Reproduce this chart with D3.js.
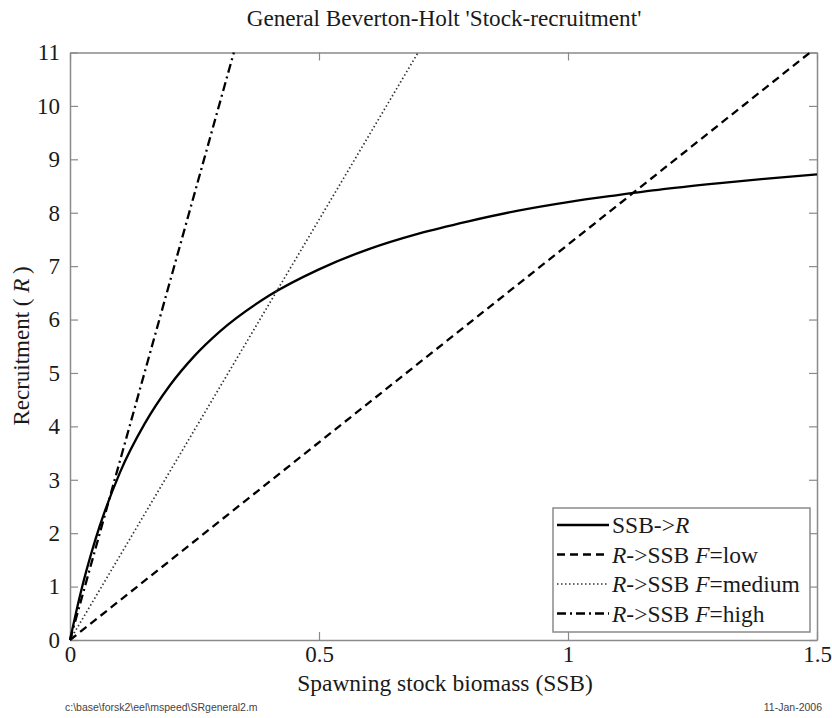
<!DOCTYPE html>
<html><head><meta charset="utf-8">
<script src="https://cdn.jsdelivr.net/npm/d3@7"></script>
<style>body{margin:0;background:#fff;} svg text{font-family:"Liberation Serif","Times New Roman",serif;}</style>
</head><body><svg id="c" width="832" height="718"></svg>
<script>
// Data
const ssb = [0, 0.02, 0.05, 0.1, 0.15, 0.2, 0.25, 0.3, 0.4, 0.5, 0.6, 0.7, 0.8, 0.9, 1.0, 1.1, 1.2, 1.3, 1.4, 1.5];
const recruit = [0, 0.83, 1.85, 3.13, 4.05, 4.76, 5.32, 5.77, 6.45, 6.94, 7.32, 7.61, 7.84, 8.04, 8.20, 8.33, 8.45, 8.55, 8.64, 8.72];
const lowSSB = [0, 1.486], lowR = [0, 11];
const medSSB = [0, 0.699], medR = [0, 11];
const highSSB = [0, 0.329], highR = [0, 11];
const xTicks = [0, 0.5, 1, 1.5];
const xTickLabels = ["0", "0.5", "1", "1.5"];
const yTicks = [0,1,2,3,4,5,6,7,8,9,10,11];
const legendLabels = [
  [["SSB->", "n"], ["R", "i"]],
  [["R", "i"], ["->SSB ", "n"], ["F", "i"], ["=low", "n"]],
  [["R", "i"], ["->SSB ", "n"], ["F", "i"], ["=medium", "n"]],
  [["R", "i"], ["->SSB ", "n"], ["F", "i"], ["=high", "n"]]
];

const SERIF = "'Liberation Serif', 'Times New Roman', serif";
const svg = d3.select("#c");
const L = 70, R = 817, T = 52.5, B = 640;
const x = d3.scaleLinear().domain([0, 1.5]).range([L, R]);
const y = d3.scaleLinear().domain([0, 11]).range([B, T]);
const axisCol = "#8a8a8a", textCol = "#1a1a1a";

// axes with inward ticks
const g = svg.append("g");
const ax = [
  d3.axisBottom(x).tickValues(xTicks).tickFormat((d,i)=>xTickLabels[i]).tickSizeInner(-8).tickSizeOuter(0).tickPadding(6),
  d3.axisTop(x).tickValues(xTicks).tickFormat("").tickSizeInner(-8).tickSizeOuter(0),
  d3.axisLeft(y).tickValues(yTicks).tickSizeInner(-8).tickSizeOuter(0).tickPadding(10),
  d3.axisRight(y).tickValues(yTicks).tickFormat("").tickSizeInner(-8).tickSizeOuter(0)
];
const tr = [`translate(0,${B})`, `translate(0,${T})`, `translate(${L},0)`, `translate(${R},0)`];
ax.forEach((a,i)=>{
  const gg = g.append("g").attr("transform", tr[i]).call(a);
  gg.attr("font-family", null);
  gg.selectAll("path").attr("stroke", axisCol).attr("stroke-width", 1.5);
  gg.selectAll("line").attr("stroke", axisCol).attr("stroke-width", 1.2);
  gg.selectAll("text").attr("fill", textCol).style("font-size", "23px")
    .style("font-family", SERIF);
});

// lines
const line = d3.line().x(d=>x(d[0])).y(d=>y(d[1]));
const curve = d3.line().x(d=>x(d[0])).y(d=>y(d[1])).curve(d3.curveMonotoneX);
const pg = svg.append("g");
const styles = [
  {dash: null, w: 2.3, col: "#000"},
  {dash: "8,5", w: 2.3, col: "#000"},
  {dash: "1.5,2.5", w: 1.7, col: "#333"},
  {dash: "9,4,2,4", w: 2.3, col: "#000"}
];
pg.append("path").attr("d", curve(ssb.map((s,i)=>[s, recruit[i]])))
  .attr("fill","none").attr("stroke", styles[0].col).attr("stroke-width", styles[0].w);
[[lowSSB,lowR],[medSSB,medR],[highSSB,highR]].forEach((s,k)=>{
  const st = styles[k+1];
  pg.append("path").attr("d", line(s[0].map((v,i)=>[v, s[1][i]])))
    .attr("fill","none").attr("stroke", st.col).attr("stroke-width", st.w)
    .attr("stroke-dasharray", st.dash);
});

// title & labels
svg.append("text").attr("x", 444).attr("y", 26).attr("text-anchor","middle")
  .style("font-size", "23.2px").style("font-family", SERIF).attr("fill", textCol)
  .text("General Beverton-Holt 'Stock-recruitment'");
svg.append("text").attr("x", 445).attr("y", 691).attr("text-anchor","middle")
  .style("font-size", "23.5px").style("font-family", SERIF).attr("fill", textCol)
  .text("Spawning stock biomass (SSB)");
const yl = svg.append("text").attr("transform", "translate(29,346) rotate(-90)").attr("text-anchor","middle")
  .style("font-size", "23px").style("font-family", SERIF).attr("fill", textCol);
yl.append("tspan").text("Recruitment ( ");
yl.append("tspan").attr("font-style","italic").text("R");
yl.append("tspan").text("\u2009)");

// legend
const lg = svg.append("g");
lg.append("rect").attr("x", 553).attr("y", 508).attr("width", 257).attr("height", 124)
  .attr("fill", "#fff").attr("stroke", axisCol).attr("stroke-width", 1.5);
legendLabels.forEach((lab, i)=>{
  const yy = 525 + i*29.5;
  const st = styles[i];
  lg.append("line").attr("x1", 557).attr("x2", 609).attr("y1", yy).attr("y2", yy)
    .attr("stroke", st.col).attr("stroke-width", st.w).attr("stroke-dasharray", st.dash);
  const t = lg.append("text").attr("x", 612).attr("y", yy + 8)
    .style("font-size", "23.5px").style("font-family", SERIF).attr("fill", textCol);
  lab.forEach(p=>{
    t.append("tspan").attr("font-style", p[1]==="i" ? "italic" : null).text(p[0]);
  });
});

// footer
svg.append("text").attr("x", 65).attr("y", 711).style("font-size", "10.5px")
  .style("font-family","'Liberation Sans', Arial, sans-serif").attr("fill", "#444")
  .text("c:\\base\\forsk2\\eel\\mspeed\\SRgeneral2.m");
svg.append("text").attr("x", 822).attr("y", 711).attr("text-anchor","end").style("font-size", "10.5px")
  .style("font-family","'Liberation Sans', Arial, sans-serif").attr("fill", "#444")
  .text("11-Jan-2006");
</script></body></html>
